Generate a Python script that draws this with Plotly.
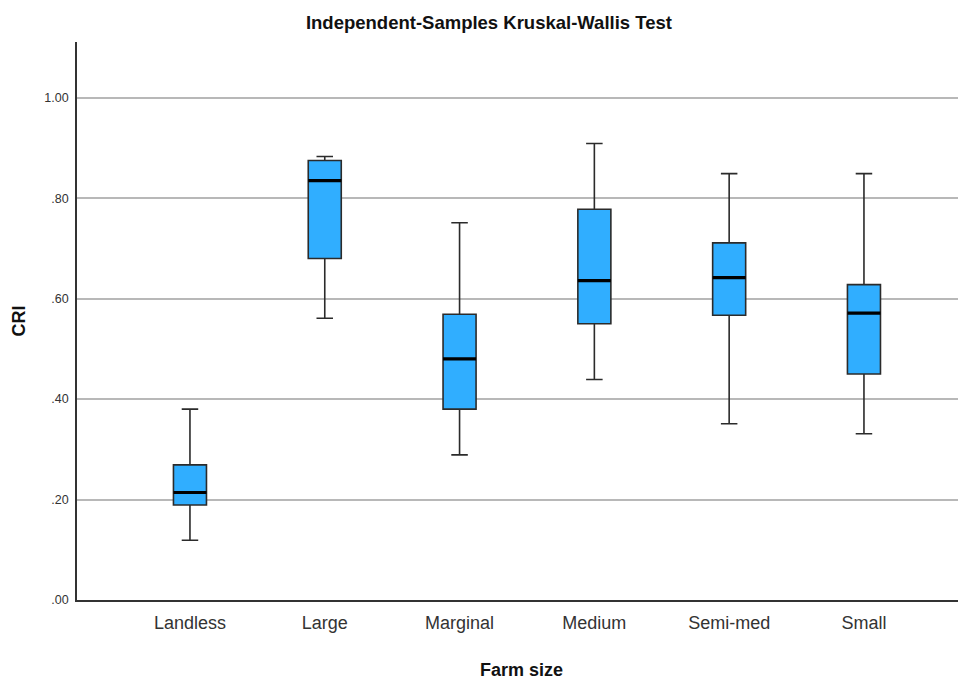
import plotly.graph_objects as go

categories = ["Landless", "Large", "Marginal", "Medium", "Semi-med", "Small"]
lower_whisker = [0.119, 0.561, 0.289, 0.439, 0.351, 0.331]
q1_values = [0.189, 0.680, 0.380, 0.550, 0.567, 0.450]
medians = [0.214, 0.835, 0.480, 0.636, 0.642, 0.571]
q3_values = [0.269, 0.875, 0.569, 0.778, 0.711, 0.628]
upper_whisker = [0.380, 0.883, 0.751, 0.909, 0.849, 0.849]

y_tickvals = [0.0, 0.2, 0.4, 0.6, 0.8, 1.0]
y_ticktext = [".00", ".20", ".40", ".60", ".80", "1.00"]

BOX_W = 0.245
font_main = "Liberation Sans, Arial, sans-serif"

fig = go.Figure()
fig.add_trace(go.Box(
    x=categories, q1=q1_values, median=medians, q3=q3_values,
    lowerfence=lower_whisker, upperfence=upper_whisker,
    width=BOX_W, whiskerwidth=0.5,
    fillcolor="#30AEFF", line=dict(color="#2b2b2b", width=1.6),
    boxpoints=False, hoverinfo="skip", showlegend=False,
))
# thick median lines
fig.add_trace(go.Box(
    x=categories, q1=medians, median=medians, q3=medians,
    lowerfence=medians, upperfence=medians,
    width=BOX_W, whiskerwidth=0,
    fillcolor="rgba(0,0,0,0)", line=dict(color="#000000", width=3.2),
    boxpoints=False, hoverinfo="skip", showlegend=False,
))

fig.update_layout(
    width=958, height=672,
    margin=dict(l=69, r=0, t=34, b=80),
    paper_bgcolor="white", plot_bgcolor="white",
    boxmode="overlay",
    title=dict(text="<b>Independent-Samples Kruskal-Wallis Test</b>",
               x=0.502, xanchor="center", y=0.979, yanchor="middle",
               font=dict(family=font_main, size=18.5, color="#111")),
    xaxis=dict(
        type="category", range=[-0.838, 5.757],
        showline=True, linecolor="#333", linewidth=1.6,
        showgrid=False, ticks="", zeroline=False,
        tickfont=dict(family=font_main, size=18, color="#333"),
        ticklabelstandoff=6,
        title=dict(text="<b>Farm size</b>", standoff=34,
                   font=dict(family=font_main, size=18, color="#111")),
    ),
    yaxis=dict(
        range=[0, 1.111], tickvals=y_tickvals, ticktext=y_ticktext,
        showline=True, linecolor="#333", linewidth=1.6,
        showgrid=True, gridcolor="#b8b8b8", gridwidth=1.5,
        ticks="", zeroline=False,
        tickfont=dict(family=font_main, size=12.5, color="#333"),
        ticklabelstandoff=4,
        title=dict(text="<b>CRI</b>", standoff=14,
                   font=dict(family=font_main, size=18, color="#111")),
    ),
)

fig.write_html("out.html")
